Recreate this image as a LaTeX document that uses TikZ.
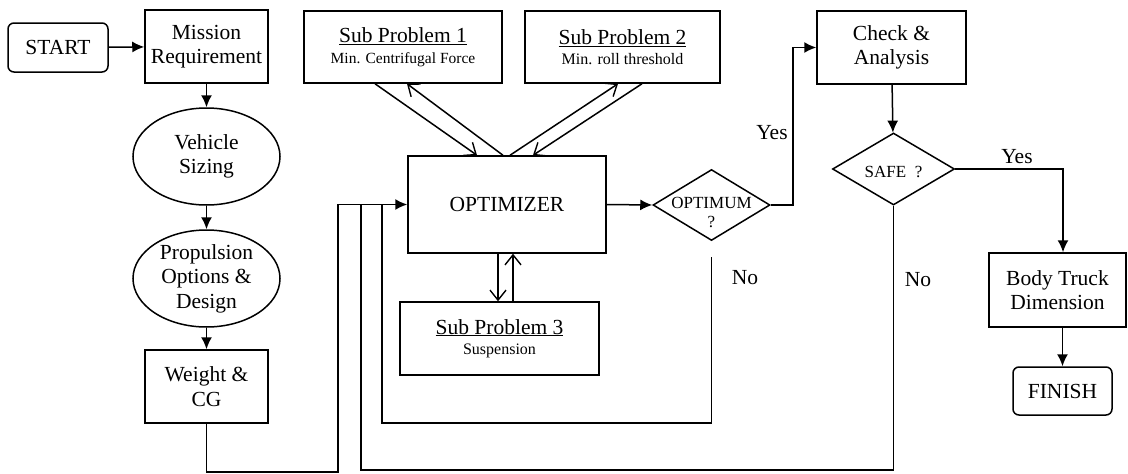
\documentclass[tikz,border=0pt]{standalone}
\usepackage{fontspec}
\setmainfont{Liberation Serif}
\usetikzlibrary{shapes.geometric,arrows.meta}
\begin{document}
\begin{tikzpicture}[x=1pt,y=-1pt,
  line width=1.5pt,
  mainfont/.style={font=\fontsize{21.5}{24.5}\selectfont},
  smallfont/.style={font=\fontsize{17}{19}\selectfont},
  subfont/.style={font=\fontsize{16}{18}\selectfont},
  boxnode/.style={draw, rectangle, inner sep=0pt, align=center, mainfont},
  roundnode/.style={draw, rectangle, rounded corners=6pt, inner sep=0pt, align=center, mainfont},
  ellnode/.style={draw, ellipse, inner sep=0pt, align=center, mainfont, minimum width=147pt, minimum height=97pt},
  dianode/.style={draw, diamond, inner sep=0pt},
  arr/.style={-{Latex[length=12pt,width=11pt]}},
  barb/.style={-{Straight Barb[length=10pt,width=16pt,line width=1.4pt]}},
  lbl/.style={mainfont, inner sep=0pt}
]
\useasboundingbox (0,0) rectangle (1128,474);

% left column
\node[roundnode, minimum width=100pt, minimum height=49pt] (start) at (58,47.5) {START};
\node[boxnode, minimum width=123pt, minimum height=73pt] (mission) at (206.5,46.5) {Mission\\Requirement};
\node[ellnode] (vsize) at (206.5,156.5) {Vehicle\\Sizing};
\node[ellnode] (prop) at (206.5,278.5) {Propulsion\\Options \&\\Design};
\node[boxnode, minimum width=123pt, minimum height=73pt] (weight) at (206.5,386.5) {Weight \&\\CG};

% optimizer and sub problems
\node[boxnode, minimum width=198pt, minimum height=97pt] (optz) at (507,204.5) {OPTIMIZER};
\node[boxnode, minimum width=198pt, minimum height=72pt] (sp1) at (403,47) {\underline{Sub Problem 1}\\[-4pt]{\fontsize{15.5}{17}\selectfont Min. Centrifugal Force}};
\node[boxnode, minimum width=195pt, minimum height=72pt] (sp2) at (622.5,47) {\underline{Sub Problem 2}\\[-4pt]{\fontsize{16}{17}\selectfont Min. roll threshold}};
\node[boxnode, minimum width=199pt, minimum height=73pt] (sp3) at (499.5,338.5) {\underline{Sub Problem 3}\\[-4pt]{\fontsize{16}{17}\selectfont Suspension}};

% decisions
\node[dianode, minimum width=117pt, minimum height=71pt,
  label={[name=optmtxt, smallfont, align=center, inner sep=0pt, yshift=-7pt]center:OPTIMUM\\?}] (optm) at (711.5,205) {};
\node[boxnode, minimum width=149pt, minimum height=73pt] (check) at (891.5,47.5) {Check \&\\Analysis};
\node[dianode, minimum width=122pt, minimum height=72pt,
  label={[name=safetxt, smallfont, inner sep=0pt, yshift=-3pt]center:SAFE\ \ ?}] (safe) at (893.5,169) {};
\node[boxnode, minimum width=137pt, minimum height=74pt] (body) at (1057.5,290) {Body Truck\\Dimension};
\node[roundnode, minimum width=99pt, minimum height=48pt] (finish) at (1062.5,391) {FINISH};

% labels
\node[lbl] (yes1) at (772,133) {Yes};
\node[lbl] (yes2) at (1017,157) {Yes};
\node[lbl] (no1) at (745,278) {No};
\node[lbl] (no2) at (918,280) {No};

% coordinates
\coordinate (w1) at (338,472);
\coordinate (s1) at (361,470);
\coordinate (s2) at (361,205);
\coordinate (o1) at (382,423);
\coordinate (o2) at (382,205);
\coordinate (y1) at (793,205);

% main flow
\draw[arr] (start) -- (mission);
\draw[arr] (mission) -- (vsize);
\draw[arr] (vsize) -- (prop);
\draw[arr] (prop) -- (weight);
\draw[arr] (weight.south) |- (w1) |- (optz.west);
\draw[arr] (optz.east) -- (optm.west);
\draw[arr] (optm.east) -- (y1) |- (check.west);
\draw[arr] (check) -- (safe);
\draw[arr] (safe.east) -| ([xshift=5.5pt]body.north);
\draw[arr] ([xshift=5pt]body.south) -- (finish);

% feedback loops
\draw (safe.south) |- (s1) -- (s2);
\draw[shorten <=16pt] (optm.south) |- (o1) -- (o2);

% sub problem links
\draw[barb] ([xshift=-28pt]sp1.south) -- ([xshift=-30pt]optz.north);
\draw[barb] ([xshift=-4pt]optz.north) -- ([xshift=4pt]sp1.south);
\draw[barb] ([xshift=3pt]optz.north) -- ([xshift=-4.5pt]sp2.south);
\draw[barb] ([xshift=19.5pt]sp2.south) -- ([xshift=26pt]optz.north);
\draw[barb] ([xshift=-9pt]optz.south) -- ([xshift=-1.5pt]sp3.north);
\draw[barb] ([xshift=13.5pt]sp3.north) -- ([xshift=6pt]optz.south);
\end{tikzpicture}
\end{document}
